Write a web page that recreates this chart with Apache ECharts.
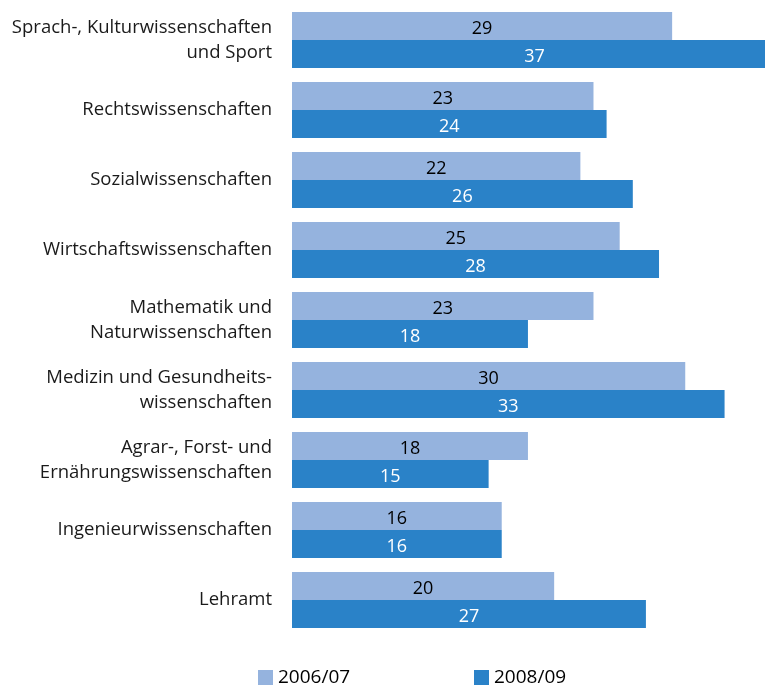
<!DOCTYPE html>
<html>
<head>
<meta charset="utf-8">
<style>
  html, body { margin: 0; padding: 0; background: #fff; overflow: hidden; }
  #chart { width: 777px; height: 688px; }
</style>
<script src="https://cdn.jsdelivr.net/npm/echarts@6/dist/echarts.min.js"></script>
</head>
<body>
<div id="chart"></div>
<script>
// Fächergruppen, top to bottom
const categories = [
  'Sprach-, Kulturwissenschaften\nund Sport',
  'Rechtswissenschaften',
  'Sozialwissenschaften',
  'Wirtschaftswissenschaften',
  'Mathematik und\nNaturwissenschaften',
  'Medizin und Gesundheits-\nwissenschaften',
  'Agrar-, Forst- und\nErnährungswissenschaften',
  'Ingenieurwissenschaften',
  'Lehramt'
];
const seriesNames = ['2006/07', '2008/09'];
const values2006 = [29, 23, 22, 25, 23, 30, 18, 16, 20];
const values2008 = [37, 24, 26, 28, 18, 33, 15, 16, 27];

const FONT = '"Open Sans", "Noto Sans", sans-serif';
const chart = echarts.init(document.getElementById('chart'));

const legendBase = {
  top: 668, padding: 0, itemWidth: 15, itemHeight: 15, icon: 'rect', itemGap: 6,
  textStyle: { fontSize: 19, color: '#000', fontFamily: FONT }
};

chart.setOption({
  animation: false,
  textStyle: { fontFamily: FONT },
  grid: { left: 292, right: 0, top: 5, bottom: 53, containLabel: false },
  legend: [
    Object.assign({ data: [seriesNames[0]], left: 258 }, legendBase),
    Object.assign({ data: [seriesNames[1]], left: 474 }, legendBase)
  ],
  xAxis: {
    type: 'value', min: 0, max: 37, show: false
  },
  yAxis: {
    type: 'category', data: categories, inverse: true,
    axisLine: { show: false }, axisTick: { show: false },
    axisLabel: {
      margin: 20, fontSize: 18.5, color: '#1a1a1a', lineHeight: 25,
      fontFamily: FONT, align: 'right', padding: [5, 0, 0, 0]
    }
  },
  series: [
    {
      name: seriesNames[0], type: 'bar', data: values2006,
      barCategoryGap: '20%', barGap: '0%',
      itemStyle: { color: '#95B3DE' },
      label: { show: true, position: 'inside', offset: [0, 3], color: '#000', fontSize: 18, fontFamily: FONT }
    },
    {
      name: seriesNames[1], type: 'bar', data: values2008,
      barCategoryGap: '20%', barGap: '0%',
      itemStyle: { color: '#2A82C8' },
      label: { show: true, position: 'inside', offset: [0, 3], color: '#fff', fontSize: 18, fontFamily: FONT }
    }
  ]
});
</script>
</body>
</html>
